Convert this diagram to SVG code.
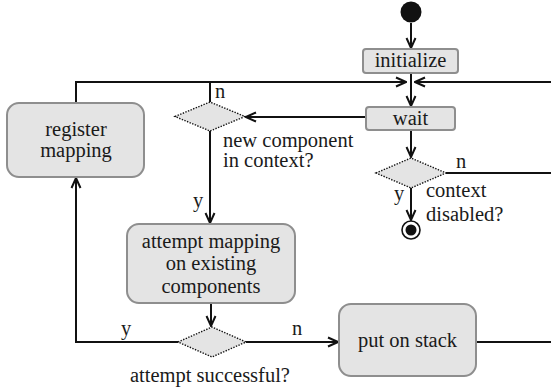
<svg xmlns="http://www.w3.org/2000/svg" width="551" height="389" viewBox="0 0 551 389">
  <style>
    .node rect { fill: #e4e4e4; stroke: #8e8e8e; stroke-width: 2; }
    .dec polygon { fill: #e4e4e4; stroke: #111; stroke-width: 1.4; stroke-dasharray: 1.4 1.4; }
    .edge { fill: none; stroke: #111; stroke-width: 2; }
    .t { font-family: "Liberation Serif", "Times New Roman", serif; font-size: 20.5px; fill: #1a1a1a; }
    .c { text-anchor: middle; }
  </style>
  <defs>
    <marker id="arr" viewBox="0 0 12 12" refX="11" refY="6" markerWidth="12" markerHeight="12" markerUnits="userSpaceOnUse" orient="auto">
      <path d="M1,1.5 L11,6 L1,10.5" fill="none" stroke="#111" stroke-width="2"/>
    </marker>
  </defs>

  <!-- connectors -->
  <g id="edges">
    <path class="edge" d="M411,23 V48" marker-end="url(#arr)"/>
    <path class="edge" d="M411,73 V106" marker-end="url(#arr)"/>
    <path class="edge" d="M76,103 V82 H406" marker-end="url(#arr)"/>
    <path class="edge" d="M551,82 H415" marker-end="url(#arr)"/>
    <path class="edge" d="M210,102 V82"/>
    <path class="edge" d="M366,117 H246" marker-end="url(#arr)"/>
    <path class="edge" d="M411,130 V157" marker-end="url(#arr)"/>
    <path class="edge" d="M446,173 H551"/>
    <path class="edge" d="M411,188 V220" marker-end="url(#arr)"/>
    <path class="edge" d="M210,131 V223" marker-end="url(#arr)"/>
    <path class="edge" d="M211,303 V326" marker-end="url(#arr)"/>
    <path class="edge" d="M178,342 H76 V178" marker-end="url(#arr)"/>
    <path class="edge" d="M246,342 H338" marker-end="url(#arr)"/>
    <path class="edge" d="M476,342 H551"/>
  </g>

  <!-- start / end -->
  <g id="start"><circle cx="411" cy="12" r="10.5" fill="#111"/></g>
  <g id="end">
    <circle cx="411" cy="230" r="9" fill="#fff" stroke="#111" stroke-width="1.6"/>
    <circle cx="411" cy="230" r="5.5" fill="#111"/>
  </g>

  <!-- actions -->
  <g id="initialize" class="node">
    <rect x="363" y="49" width="95" height="24" rx="3"/>
    <text class="t c" x="410.5" y="67">initialize</text>
  </g>
  <g id="wait" class="node">
    <rect x="366" y="107" width="89" height="23" rx="3"/>
    <text class="t c" x="410.5" y="125">wait</text>
  </g>
  <g id="register" class="node">
    <rect x="7" y="103" width="137" height="74" rx="12"/>
    <text class="t c" x="76" y="136">register</text>
    <text class="t c" x="76" y="157">mapping</text>
  </g>
  <g id="attempt" class="node">
    <rect x="127" y="224" width="168" height="79" rx="12"/>
    <text class="t c" x="211" y="248">attempt mapping</text>
    <text class="t c" x="211" y="270">on existing</text>
    <text class="t c" x="211" y="293">components</text>
  </g>
  <g id="stack" class="node">
    <rect x="339" y="304" width="137" height="72" rx="12"/>
    <text class="t c" x="407.5" y="347">put on stack</text>
  </g>

  <!-- decisions -->
  <g id="dec-new" class="dec">
    <polygon points="175,116.5 210,102 245,116.5 210,131"/>
    <text class="t" x="215" y="98">n</text>
    <text class="t" x="223" y="147">new component</text>
    <text class="t" x="223" y="167">in context?</text>
    <text class="t" x="193" y="207">y</text>
  </g>
  <g id="dec-context" class="dec">
    <polygon points="376,173 411,158 446,173 411,188"/>
    <text class="t" x="456" y="168">n</text>
    <text class="t" x="394" y="200">y</text>
    <text class="t" x="426" y="197">context</text>
    <text class="t" x="426" y="221">disabled?</text>
  </g>
  <g id="dec-success" class="dec">
    <polygon points="178,342 212,327 246,342 212,357"/>
    <text class="t" x="121" y="335">y</text>
    <text class="t" x="292" y="335">n</text>
    <text class="t c" x="210" y="382">attempt successful?</text>
  </g>
</svg>
